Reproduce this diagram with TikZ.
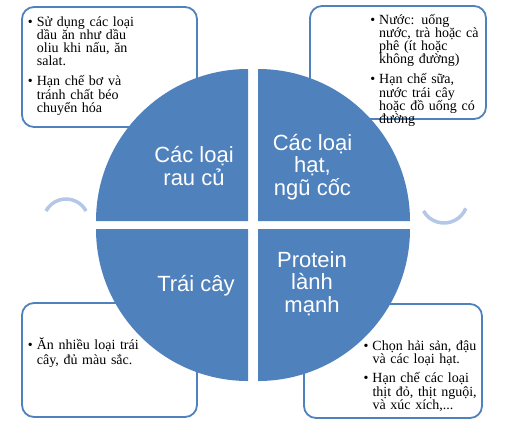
\documentclass[tikz,border=0pt]{standalone}
\usepackage{fontspec}
\setmainfont{Liberation Serif}
\newfontfamily\quadfont{Liberation Sans}
\definecolor{quadblue}{HTML}{4F81BD}
\definecolor{swirlblue}{HTML}{B4C7E7}
\newcommand\notefont{\fontsize{14}{13.3}\selectfont\lineskiplimit=-20pt\relax}
\newcommand\fooditem{\leavevmode\llap{\textbullet\hspace{4pt}}}
\tikzset{
  quadrant/.style={fill=quadblue},
  notebox/.style={draw=quadblue, line width=1.8, rounded corners=12, fill=white},
  notetext/.style={anchor=base west, inner sep=0pt, align=left, text width=130pt, font=\notefont},
  quadtext/.style={anchor=base, inner sep=0pt, align=center, text=white,
    font={\quadfont\fontsize{22}{22.5}\selectfont\lineskiplimit=-20pt\relax}},
  swirl/.style={draw=swirlblue, line width=3.5}
}
\begin{document}
\begin{tikzpicture}[x=1pt,y=-1pt]
  \useasboundingbox (0,0) rectangle (508,424);
  \node[notebox, minimum width=175, minimum height=120] (vegBox) at (109.5,67) {};
  \node[notebox, minimum width=176, minimum height=113] (drinkBox) at (398,62.5) {};
  \node[notebox, minimum width=175, minimum height=114] (fruitBox) at (109.5,360) {};
  \node[notebox, minimum width=178, minimum height=114] (proteinBox) at (393,361) {};

  \fill[quadrant] (248,221) -- ++(-152,0) arc[start angle=180, end angle=270, radius=152] -- cycle;
  \fill[quadrant] (258,221) -- ++(0,-152) arc[start angle=270, end angle=360, radius=152] -- cycle;
  \fill[quadrant] (248,229) -- ++(-152,0) arc[start angle=180, end angle=90, radius=152] -- cycle;
  \fill[quadrant] (258,229) -- ++(152,0) arc[start angle=0, end angle=90, radius=152] -- cycle;

  \draw[swirl] (66,221.7) ++(208:22.7) arc[start angle=208, end angle=332, radius=22.7];
  \draw[swirl] (444,199.5) ++(151:23.5) arc[start angle=151, end angle=22, radius=23.5];

  \node[quadtext] (vegLabel) at (194,185) {Các loại\\rau củ};
  \node[quadtext] (grainLabel) at (312.5,195) {Các loại\\hạt,\\ngũ cốc};
  \node[quadtext] (fruitLabel) at (196,291) {Trái cây};
  \node[quadtext] (proteinLabel) at (312,312) {Protein\\lành\\mạnh};

  \node[notetext] (vegNote) at (36.7,26) {\fooditem Sử dụng các loại\\ dầu ăn như dầu\\ oliu khi nấu, ăn\\ salat.\\[6.7pt]
    \fooditem Hạn chế bơ và\\ tránh chất béo\\ chuyển hóa};
  \node[notetext] (drinkNote) at (379,24) {\fooditem Nước: uống\\ nước, trà hoặc cà\\ phê (ít hoặc\\ không đường)\\[6.7pt]
    \fooditem Hạn chế sữa,\\ nước trái cây\\ hoặc đồ uống có\\ đường};
  \node[notetext, font={\notefont\baselineskip=14.7pt}] (fruitNote) at (36.7,349.3) {\fooditem Ăn nhiều loại trái\\ cây, đủ màu sắc.};
  \node[notetext] (proteinNote) at (372.3,350) {\fooditem Chọn hải sản, đậu\\ và các loại hạt.\\[6.1pt]
    \fooditem Hạn chế các loại\\ thịt đỏ, thịt nguội,\\ và xúc xích,...};
\end{tikzpicture}
\end{document}
